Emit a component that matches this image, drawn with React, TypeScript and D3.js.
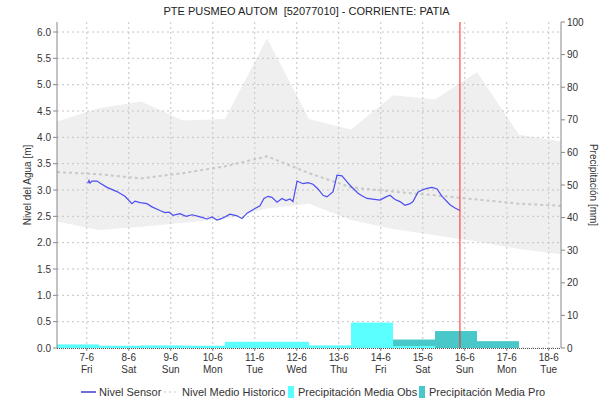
import React from "react";
import * as d3 from "d3";

// historical envelope, one node per day at 07:00
const histTimes = [
  "2024-06-06T07:00", "2024-06-07T07:00", "2024-06-08T07:00", "2024-06-09T07:00",
  "2024-06-10T07:00", "2024-06-11T07:00", "2024-06-12T07:00", "2024-06-13T07:00",
  "2024-06-14T07:00", "2024-06-15T07:00", "2024-06-16T07:00", "2024-06-17T07:00",
  "2024-06-18T07:00",
];
const histMax = [4.30, 4.55, 4.68, 4.32, 4.35, 5.88, 4.35, 4.15, 4.80, 4.72, 5.24, 4.05, 3.92];
const histMin = [2.40, 2.24, 2.30, 2.38, 2.45, 2.65, 2.74, 2.43, 2.26, 2.14, 2.02, 1.88, 1.78];
const histMean = [3.34, 3.30, 3.22, 3.32, 3.45, 3.64, 3.32, 3.05, 2.97, 2.90, 2.82, 2.74, 2.70];

// daily precipitation (mm), bar i spans histTimes[i] .. histTimes[i+1]
const precipObs = [1.1, 0.7, 0.8, 0.7, 1.9, 1.9, 0.8, 7.8, 0.6, 0, 0, 0];
const precipPro = [0, 0, 0, 0, 0, 0, 0, 0, 2.6, 5.2, 2.1, 0];

// sensor water level
const sensorTimes = [
  "2024-06-07T00:30", "2024-06-07T01:15", "2024-06-07T01:50", "2024-06-07T03:00",
  "2024-06-07T05:50", "2024-06-07T08:10", "2024-06-07T11:35", "2024-06-07T17:15",
  "2024-06-07T21:50", "2024-06-08T01:50", "2024-06-08T03:35", "2024-06-08T06:25",
  "2024-06-08T10:25", "2024-06-08T13:15", "2024-06-08T17:50", "2024-06-08T20:45",
  "2024-06-08T23:00", "2024-06-09T01:15", "2024-06-09T05:15", "2024-06-09T08:45",
  "2024-06-09T12:10", "2024-06-09T16:45", "2024-06-09T20:45", "2024-06-09T23:35",
  "2024-06-10T02:25", "2024-06-10T05:15", "2024-06-10T09:50", "2024-06-10T13:50",
  "2024-06-10T16:45", "2024-06-10T19:35", "2024-06-11T00:10", "2024-06-11T03:00",
  "2024-06-11T05:15", "2024-06-11T07:35", "2024-06-11T09:50", "2024-06-11T12:45",
  "2024-06-11T15:35", "2024-06-11T17:50", "2024-06-11T20:10", "2024-06-11T21:50",
  "2024-06-12T00:10", "2024-06-12T03:35", "2024-06-12T06:25", "2024-06-12T09:15",
  "2024-06-12T12:10", "2024-06-12T15:00", "2024-06-12T17:15", "2024-06-12T20:45",
  "2024-06-12T23:00", "2024-06-13T01:50", "2024-06-13T04:10", "2024-06-13T06:25",
  "2024-06-13T11:00", "2024-06-13T13:15", "2024-06-13T16:10", "2024-06-13T23:35",
  "2024-06-14T02:25", "2024-06-14T05:15", "2024-06-14T08:10", "2024-06-14T11:00",
  "2024-06-14T13:50", "2024-06-14T16:45", "2024-06-14T18:25", "2024-06-14T21:15",
  "2024-06-14T23:35", "2024-06-15T02:25", "2024-06-15T05:15", "2024-06-15T08:10",
  "2024-06-15T11:00", "2024-06-15T15:35", "2024-06-15T18:25", "2024-06-15T21:15",
];
const sensorLevel = [
  3.13, 3.18, 3.13, 3.17,
  3.17, 3.12, 3.05, 2.97,
  2.88, 2.74, 2.79, 2.76,
  2.74, 2.68, 2.61, 2.57,
  2.58, 2.52, 2.55, 2.50,
  2.53, 2.49, 2.45, 2.49,
  2.43, 2.46, 2.54, 2.51,
  2.46, 2.56, 2.65, 2.70,
  2.84, 2.88, 2.86, 2.77,
  2.84, 2.80, 2.83, 2.78,
  3.17, 3.12, 3.14, 3.11,
  3.02, 2.90, 2.87, 2.97,
  3.28, 3.27, 3.18, 3.09,
  2.94, 2.89, 2.84, 2.81,
  2.86, 2.90, 2.82, 2.78,
  2.71, 2.74, 2.78, 2.96,
  3.00, 3.03, 3.05, 3.02,
  2.88, 2.72, 2.66, 2.61,
];

const nowTime = "2024-06-15T21:15";
const levelTicks = [0, 0.5, 1, 1.5, 2, 2.5, 3, 3.5, 4, 4.5, 5, 5.5, 6];
const precipTicks = [0, 10, 20, 30, 40, 50, 60, 70, 80, 90, 100];

const W = 613, H = 403;
const margin = { top: 22, right: 52, bottom: 55, left: 57 };
const FONT = "'Liberation Sans', Arial, sans-serif";

export default function App() {
  const pw = W - margin.left - margin.right;
  const ph = H - margin.top - margin.bottom;
  const parse = (s: string) => new Date(s);

  const x = d3.scaleTime()
    .domain([parse(histTimes[0]), parse(histTimes[histTimes.length - 1])])
    .range([margin.left, margin.left + pw]);
  const y = d3.scaleLinear().domain([0, 6.19]).range([margin.top + ph, margin.top]);
  const yR = d3.scaleLinear().domain([0, 100]).range([margin.top + ph, margin.top]);

  const hist = histTimes.map((t, i) => ({ t: parse(t), max: histMax[i], min: histMin[i], mean: histMean[i] }));
  const band = d3.area<any>().x(d => x(d.t)).y0(d => y(d.min)).y1(d => y(d.max))(hist) || "";
  const meanPath = d3.line<any>().x(d => x(d.t)).y(d => y(d.mean))(hist) || "";
  const sensor = sensorTimes.map((t, i) => ({ t: parse(t), v: sensorLevel[i] }));
  const sensorPath = d3.line<any>().x(d => x(d.t)).y(d => y(d.v))(sensor) || "";

  const days = d3.timeDay.range(new Date("2024-06-07T00:00"), new Date("2024-06-18T12:00"));
  const fmtDay = d3.timeFormat("%-d-%-m");
  const fmtWd = d3.timeFormat("%a");

  const x0 = margin.left, x1 = margin.left + pw, yb = margin.top + ph, yt = margin.top;
  const grid = "#c4c4c4";
  const axis = "#888";
  const txt = "#333";

  const bars = (vals: number[], color: string) =>
    vals.map((v, i) => v > 0 ? (
      <rect key={color + i} x={x(parse(histTimes[i]))} width={x(parse(histTimes[i + 1])) - x(parse(histTimes[i]))}
        y={yR(v)} height={yb - yR(v)} fill={color} />
    ) : null);

  return (
    <svg width={W} height={H} style={{ position: "absolute", left: 0, top: 0, fontFamily: FONT }}>
      <rect width={W} height={H} fill="#fff" />
      <text x={W / 2} y={15} textAnchor="middle" fontSize={11} fill="#222" style={{ whiteSpace: "pre" }}>
        {"PTE PUSMEO AUTOM  [52077010] - CORRIENTE: PATIA"}
      </text>

      <path d={band} fill="#efefef" />

      {levelTicks.map(v => (
        <line key={"h" + v} x1={x0} x2={x1} y1={y(v)} y2={y(v)} stroke={grid} strokeDasharray="2,3" />
      ))}
      {days.map(d => (
        <line key={"v" + d.getTime()} x1={x(d)} x2={x(d)} y1={yt} y2={yb} stroke={grid} strokeDasharray="2,3" />
      ))}

      <path d={meanPath} fill="none" stroke="#c8c8c8" strokeWidth={2} strokeDasharray="3,3" />
      <path d={sensorPath} fill="none" stroke="#4c4cf2" strokeWidth={1.2} />

      {bars(precipPro, "#48c8c8")}
      {bars(precipObs, "#5cffff")}

      <line x1={x(parse(nowTime))} x2={x(parse(nowTime))} y1={yt} y2={yb} stroke="#ff2020" strokeWidth={1} />

      {/* axes */}
      <line x1={x0} x2={x0} y1={yt} y2={yb} stroke={axis} />
      <line x1={x1} x2={x1} y1={yt} y2={yb} stroke={axis} />
      <line x1={x0} x2={x1} y1={yb + 0.5} y2={yb + 0.5} stroke="#555" strokeDasharray="1,1" />
      {levelTicks.map(v => (
        <g key={"lt" + v}>
          <line x1={x0 - 4} x2={x0} y1={y(v)} y2={y(v)} stroke={axis} />
          <text x={x0 - 6} y={y(v) + 3.5} textAnchor="end" fontSize={10} fill={txt}>{v.toFixed(1)}</text>
        </g>
      ))}
      {precipTicks.map(v => (
        <g key={"rt" + v}>
          <line x1={x1} x2={x1 + 4} y1={yR(v)} y2={yR(v)} stroke={axis} />
          <text x={x1 + 6} y={yR(v) + 3.5} fontSize={10} fill={txt}>{v}</text>
        </g>
      ))}
      {days.map(d => (
        <g key={"xt" + d.getTime()}>
          <line x1={x(d)} x2={x(d)} y1={yb} y2={yb + 3} stroke={axis} />
          <text x={x(d)} y={yb + 13} textAnchor="middle" fontSize={10} fill={txt}>{fmtDay(d)}</text>
          <text x={x(d)} y={yb + 25} textAnchor="middle" fontSize={10} fill={txt}>{fmtWd(d)}</text>
        </g>
      ))}

      <text transform={`translate(31,${(yt + yb) / 2}) rotate(-90)`} textAnchor="middle" fontSize={10} fill={txt}>
        Nivel del Agua [m]
      </text>
      <text transform={`translate(590,${(yt + yb) / 2}) rotate(90)`} textAnchor="middle" fontSize={10} fill={txt}>
        Precipitación [mm]
      </text>

      {/* legend */}
      <g fontSize={11} fill={txt}>
        <line x1={81} x2={96} y1={392} y2={392} stroke="#1010c0" strokeWidth={1.2} />
        <text x={99} y={396}>Nivel Sensor</text>
        <line x1={164} x2={178} y1={392} y2={392} stroke="#c8c8c8" strokeWidth={1.2} strokeDasharray="2,3" />
        <text x={182} y={396}>Nivel Medio Historico</text>
        <rect x={288} y={386} width={6} height={12} fill="#5cffff" />
        <text x={298} y={396}>Precipitación Media Obs</text>
        <rect x={419} y={386} width={6} height={12} fill="#48c8c8" />
        <text x={429} y={396}>Precipitación Media Pro</text>
      </g>
    </svg>
  );
}
